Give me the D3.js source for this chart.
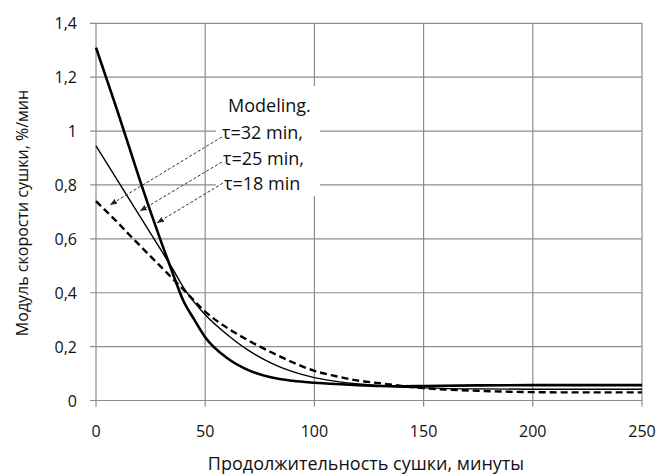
<!DOCTYPE html>
<html>
<head>
<meta charset="utf-8">
<script src="https://cdn.jsdelivr.net/npm/d3@7"></script>
<style>
  html, body { margin: 0; padding: 0; background: #fff; }
  svg { display: block; font-family: "Open Sans", sans-serif; }
</style>
</head>
<body>
<svg id="chart" width="661" height="475"></svg>
<script>
// ---- data ----
const timeMin = [0, 5, 10, 15, 20, 25, 30, 35, 40, 45, 50, 60, 70, 80, 90, 100, 110, 120, 130, 140, 150, 175, 200, 225, 250];
const rateTau18 = [1.31, 1.19, 1.07, 0.945, 0.82, 0.70, 0.585, 0.475, 0.37, 0.30, 0.235, 0.158, 0.112, 0.086, 0.073, 0.066, 0.061, 0.057, 0.054, 0.053, 0.054, 0.056, 0.057, 0.057, 0.057];
const rateTau25 = [0.945, 0.88, 0.815, 0.75, 0.685, 0.62, 0.555, 0.49, 0.42, 0.365, 0.318, 0.245, 0.185, 0.14, 0.107, 0.085, 0.071, 0.061, 0.055, 0.05, 0.047, 0.043, 0.042, 0.042, 0.042];
const rateTau32 = [0.74, 0.70, 0.66, 0.617, 0.576, 0.535, 0.494, 0.453, 0.412, 0.37, 0.33, 0.27, 0.222, 0.18, 0.142, 0.11, 0.09, 0.074, 0.064, 0.054, 0.046, 0.036, 0.031, 0.03, 0.03];
const xTicks = [0, 50, 100, 150, 200, 250];
const yTicks = [0, 0.2, 0.4, 0.6, 0.8, 1.0, 1.2, 1.4];
const legendLines = ["Modeling.", "τ=32 min,", "τ=25 min,", "τ=18 min"];
// annotation arrows: [from x, from y, to x, to y] in data units
const arrowFrom = [[57.6, 0.978], [57.6, 0.885], [58.1, 0.807]];
const arrowTo = [[6.4, 0.726], [20.1, 0.703], [27.9, 0.659]];
const xTitle = "Продолжительность сушки, минуты";
const yTitle = "Модуль скорости сушки, %/мин";

// ---- drawing ----
const svg = d3.select("#chart");
const x = d3.scaleLinear().domain([0, 250]).range([96, 642]);
const y = d3.scaleLinear().domain([0, 1.4]).range([400.5, 23.3]);
const gridColor = "#8c8c8c";
const fmt = v => d3.format("~g")(+v.toFixed(1)).replace(".", ",");

// grid
svg.append("g").selectAll("line").data(xTicks).join("line")
  .attr("x1", d => x(d)).attr("x2", d => x(d))
  .attr("y1", y(1.4)).attr("y2", y(0) + 6)
  .attr("stroke", gridColor).attr("stroke-width", 1.2);
svg.append("g").selectAll("line").data(yTicks).join("line")
  .attr("x1", x(0) - 6).attr("x2", x(250))
  .attr("y1", d => y(d)).attr("y2", d => y(d))
  .attr("stroke", gridColor).attr("stroke-width", 1.2);

// tick labels
svg.append("g").selectAll("text").data(xTicks).join("text")
  .attr("x", d => x(d)).attr("y", 437)
  .attr("text-anchor", "middle").attr("font-size", 16).attr("fill", "#111")
  .text(d => d);
svg.append("g").selectAll("text").data(yTicks).join("text")
  .attr("x", 77).attr("y", d => y(d) + 6)
  .attr("text-anchor", "end").attr("font-size", 16).attr("fill", "#111")
  .text(d => fmt(d));

// axis titles
svg.append("text").attr("x", 366).attr("y", 470)
  .attr("text-anchor", "middle").attr("font-size", 18).attr("fill", "#111")
  .text(xTitle);
svg.append("text")
  .attr("transform", `translate(28,${213}) rotate(-90)`)
  .attr("text-anchor", "middle").attr("font-size", 16).attr("fill", "#111")
  .text(yTitle);

// legend box background (hides grid)
svg.append("rect").attr("x", 216).attr("y", 86).attr("width", 104).attr("height", 110).attr("fill", "#fff");

// curves
const line = d3.line().x((d, i) => x(timeMin[i])).y(d => y(d)).curve(d3.curveMonotoneX);
svg.append("path").attr("d", line(rateTau32)).attr("fill", "none")
  .attr("stroke", "#000").attr("stroke-width", 2.4).attr("stroke-dasharray", "7,4");
svg.append("path").attr("d", line(rateTau25)).attr("fill", "none")
  .attr("stroke", "#000").attr("stroke-width", 1.4);
svg.append("path").attr("d", line(rateTau18)).attr("fill", "none")
  .attr("stroke", "#000").attr("stroke-width", 2.6);

// arrows
const defs = svg.append("defs");
defs.append("marker").attr("id", "ah").attr("viewBox", "0 0 10 10")
  .attr("refX", 10).attr("refY", 5).attr("markerWidth", 7).attr("markerHeight", 7)
  .attr("orient", "auto").attr("markerUnits", "userSpaceOnUse")
  .append("path").attr("d", "M0,1 L10,5 L0,9 Z").attr("fill", "#222");
svg.append("g").selectAll("line").data(arrowFrom).join("line")
  .attr("x1", d => x(d[0])).attr("y1", d => y(d[1]))
  .attr("x2", (d, i) => x(arrowTo[i][0])).attr("y2", (d, i) => y(arrowTo[i][1]))
  .attr("stroke", "#333").attr("stroke-width", 1).attr("stroke-dasharray", "3,2")
  .attr("marker-end", "url(#ah)");

// legend text
const legendY = [112, 139, 165, 190];
const legendX = [228, 222, 223, 224];
svg.append("g").selectAll("text").data(legendLines).join("text")
  .attr("x", (d, i) => legendX[i]).attr("y", (d, i) => legendY[i])
  .attr("font-size", 18).attr("fill", "#111")
  .text(d => d);
</script>
</body>
</html>
